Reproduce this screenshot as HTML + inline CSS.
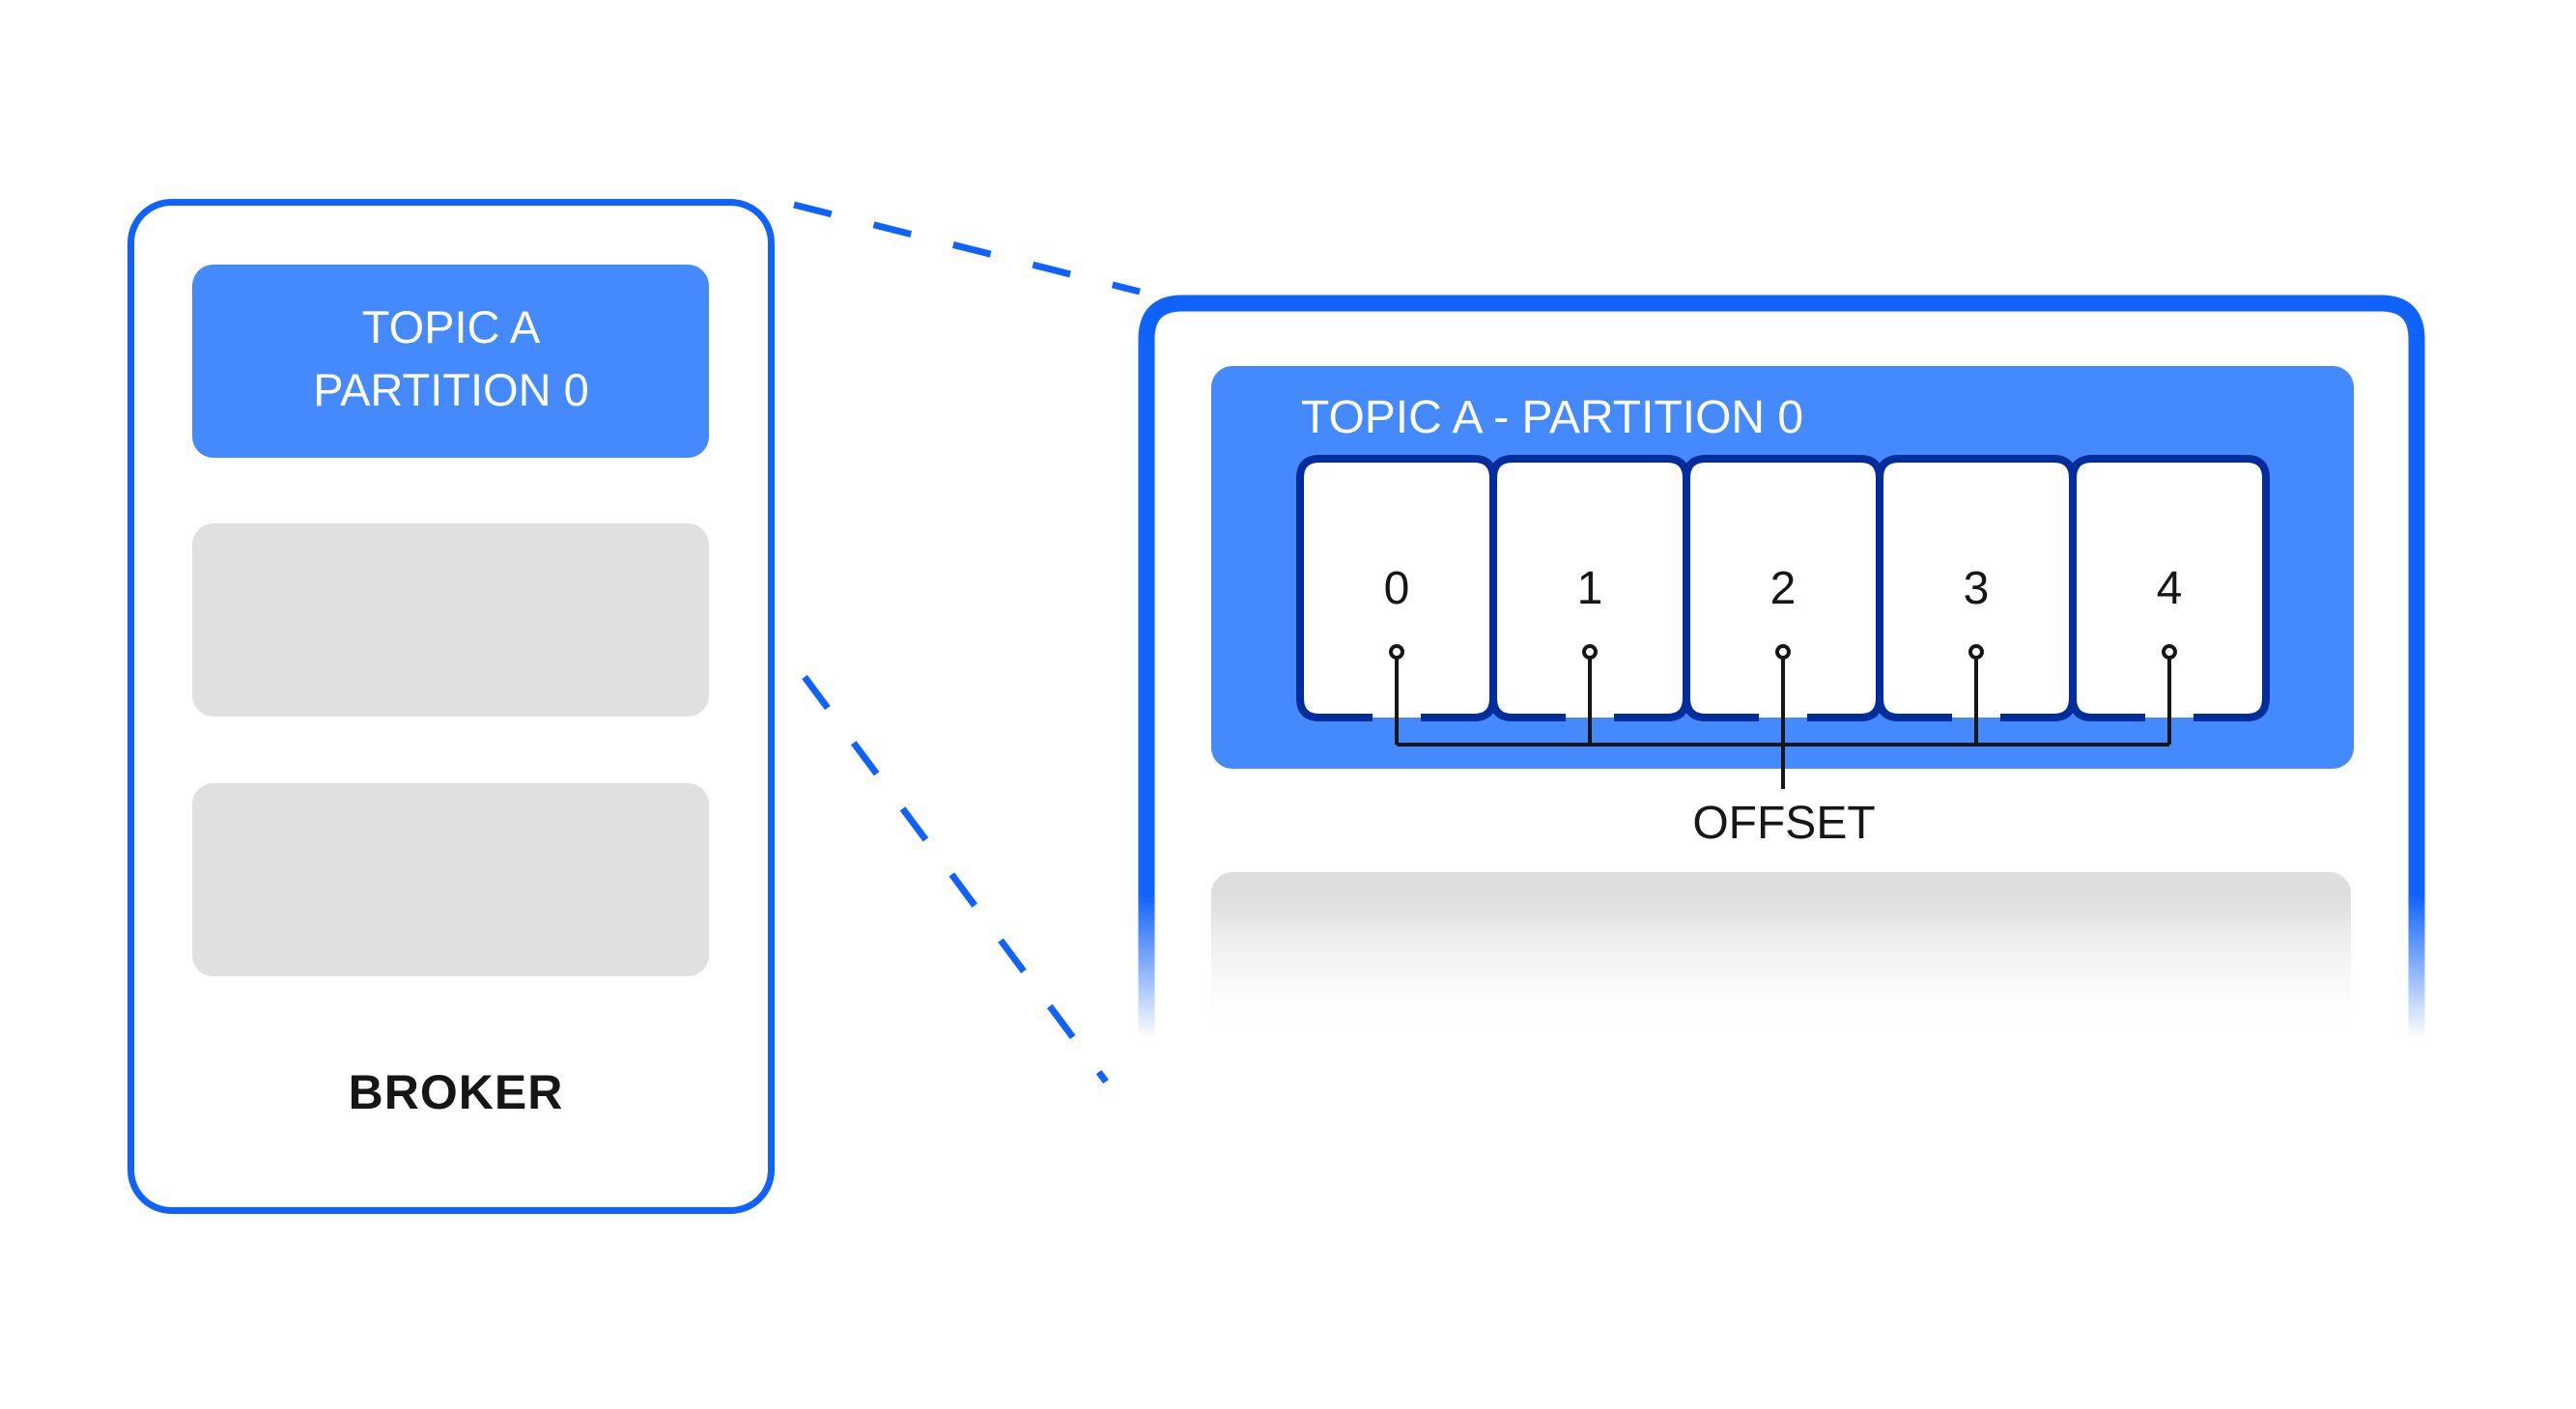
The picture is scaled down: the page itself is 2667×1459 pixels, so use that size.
<!DOCTYPE html>
<html><head><meta charset="utf-8"><style>html,body{margin:0;padding:0;background:#fff}svg{display:block}</style></head>
<body>
<svg width="2667" height="1459" viewBox="0 0 2667 1459" xmlns="http://www.w3.org/2000/svg" font-family="Liberation Sans, sans-serif">
<defs>
<linearGradient id="fade" x1="0" y1="0" x2="0" y2="1459" gradientUnits="userSpaceOnUse">
<stop offset="0" stop-color="#fff"/>
<stop offset="0.635" stop-color="#fff"/>
<stop offset="0.737" stop-color="#000"/>
</linearGradient>
<mask id="m"><rect width="2667" height="1459" fill="url(#fade)"/></mask>
<linearGradient id="gg" x1="0" y1="903" x2="0" y2="1080" gradientUnits="userSpaceOnUse">
<stop offset="0.2" stop-color="#dedede"/>
<stop offset="1" stop-color="#ffffff"/>
</linearGradient>
</defs>
<line x1="822" y1="212" x2="1180" y2="302" stroke="#0f62fe" stroke-width="7" stroke-dasharray="40 45"/>
<line x1="833" y1="701" x2="1145" y2="1120" stroke="#0f62fe" stroke-width="7" stroke-dasharray="40 45"/>
<rect x="135.5" y="209.5" width="663" height="1044" rx="42" fill="#fff" stroke="#0f62fe" stroke-width="7"/>
<rect x="199" y="274" width="535" height="200" rx="22" fill="#4589ff"/>
<rect x="199" y="542" width="535" height="200" rx="22" fill="#e0e0e0"/>
<rect x="199" y="811" width="535" height="200" rx="22" fill="#e0e0e0"/>
<text x="467" y="355" fill="#fff" font-size="47" text-anchor="middle">TOPIC A</text>
<text x="467" y="420" fill="#fff" font-size="47" text-anchor="middle">PARTITION 0</text>
<text x="472" y="1148" fill="#161616" font-size="50" font-weight="bold" text-anchor="middle" letter-spacing="1">BROKER</text>
<g mask="url(#m)">
<path d="M1187 1459 V351 Q1187 314 1224 314 H2465 Q2502 314 2502 351 V1459" fill="#fff" stroke="#0f62fe" stroke-width="17"/>
<rect x="1254" y="903" width="1180" height="300" rx="22" fill="url(#gg)"/>
</g>
<rect x="1254" y="379" width="1183" height="417" rx="22" fill="#4589ff"/>
<text x="1347" y="448" fill="#fff" font-size="48">TOPIC A - PARTITION 0</text>
<g stroke="#002d9c" stroke-width="8" fill="#fff">
<path d="M1421 743 H1366 Q1346 743 1346 723 V495 Q1346 475 1366 475 H1526 Q1546 475 1546 495 V723 Q1546 743 1526 743 H1471"/>
<path d="M1621 743 H1566 Q1546 743 1546 723 V495 Q1546 475 1566 475 H1726 Q1746 475 1746 495 V723 Q1746 743 1726 743 H1671"/>
<path d="M1821 743 H1766 Q1746 743 1746 723 V495 Q1746 475 1766 475 H1926 Q1946 475 1946 495 V723 Q1946 743 1926 743 H1871"/>
<path d="M2021 743 H1966 Q1946 743 1946 723 V495 Q1946 475 1966 475 H2126 Q2146 475 2146 495 V723 Q2146 743 2126 743 H2071"/>
<path d="M2221 743 H2166 Q2146 743 2146 723 V495 Q2146 475 2166 475 H2326 Q2346 475 2346 495 V723 Q2346 743 2326 743 H2271"/>
</g>
<g fill="#161616" font-size="48" text-anchor="middle">
<text x="1446" y="625">0</text><text x="1646" y="625">1</text><text x="1846" y="625">2</text><text x="2046" y="625">3</text><text x="2246" y="625">4</text>
</g>
<g stroke="#161616" stroke-width="4" fill="none">
<path d="M1446 681 V771 M1646 681 V771 M1846 681 V817 M2046 681 V771 M2246 681 V771 M1446 771 H2246"/>
<circle cx="1446" cy="675" r="6" fill="#fff"/><circle cx="1646" cy="675" r="6" fill="#fff"/><circle cx="1846" cy="675" r="6" fill="#fff"/><circle cx="2046" cy="675" r="6" fill="#fff"/><circle cx="2246" cy="675" r="6" fill="#fff"/>
</g>
<text x="1847" y="868" fill="#161616" font-size="48" text-anchor="middle">OFFSET</text>
</svg>
</body></html>
